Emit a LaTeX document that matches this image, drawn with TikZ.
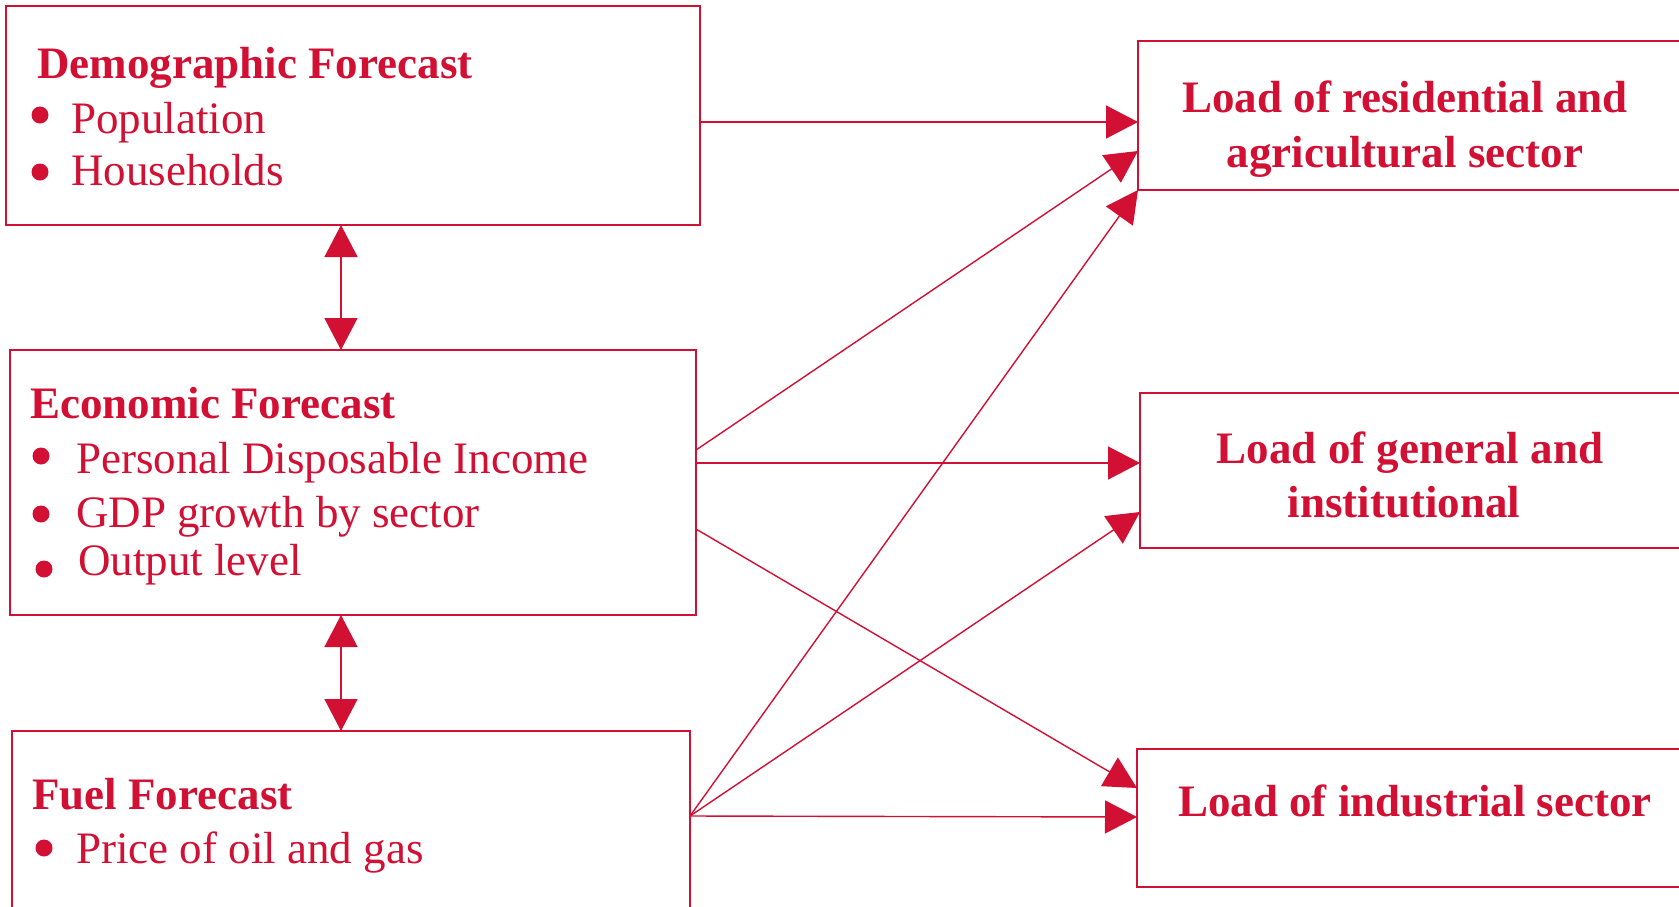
\documentclass[tikz,border=0pt]{standalone}
\usepackage{fontspec}
\setmainfont{Liberation Serif}
\usetikzlibrary{arrows.meta}
\definecolor{crim}{RGB}{210,16,52}
\tikzset{
  box/.style={draw=crim, line width=2.5pt, rectangle, inner sep=0pt, outer sep=0pt},
  conn/.style={draw=crim, line width=1.4pt, -{Triangle[length=32pt,width=33pt]}},
  biconn/.style={draw=crim, line width=1.4pt, {Triangle[length=32pt,width=33pt]}-{Triangle[length=32pt,width=33pt]}},
  ttl/.style={text=crim, anchor=base west, inner sep=0pt, font=\fontsize{45}{54}\selectfont\bfseries},
  itm/.style={text=crim, anchor=base west, inner sep=0pt, font=\fontsize{45}{54}\selectfont},
  rtxt/.style={text=crim, anchor=base, inner sep=0pt, font=\fontsize{45}{54}\selectfont\bfseries},
  dot/.style={fill=crim}
}
\begin{document}
\begin{tikzpicture}[x=1pt,y=-1pt]
\useasboundingbox (0,0) rectangle (1679,906);
\clip (0,0) rectangle (1679,906);
\fill[white] (0,0) rectangle (1679,906);
% boxes
\node[box, minimum width=694pt, minimum height=219pt] (demo) at (353,115.5) {};
\node[box, minimum width=686pt, minimum height=265pt] (econ) at (353,482.5) {};
\node[box, minimum width=678pt, minimum height=199pt] (fuel) at (351,830.5) {};
\node[box, minimum width=552pt, minimum height=149pt] (res) at (1414,115.5) {};
\node[box, minimum width=550pt, minimum height=155pt] (gen) at (1415,470.5) {};
\node[box, minimum width=553pt, minimum height=138pt] (ind) at (1413.5,818) {};
% left texts
\node[ttl] (demoT) at (37,78) {Demographic Forecast};
\node[itm] (demo1) at (71,133) {Population};
\node[itm] (demo2) at (71,185) {Households};
\fill[dot] (40,115) circle (8.5);
\fill[dot] (40,172) circle (8.5);
\node[ttl] (econT) at (30,418) {Economic Forecast};
\node[itm] (econ1) at (76,473) {Personal Disposable Income};
\node[itm] (econ2) at (76,527) {GDP growth by sector};
\node[itm] (econ3) at (78,575) {Output level};
\fill[dot] (41,456) circle (8.5);
\fill[dot] (41,514) circle (8.5);
\fill[dot] (44,569) circle (8.5);
\node[ttl] (fuelT) at (32,809) {Fuel Forecast};
\node[itm] (fuel1) at (76,863) {Price of oil and gas};
\fill[dot] (44,848) circle (8.5);
% right texts
\node[rtxt] (res1) at (1405,112) {Load of residential and};
\node[rtxt] (res2) at (1405,167) {agricultural sector};
\node[rtxt] (gen1) at (1410,463) {Load of general and};
\node[rtxt] (gen2) at (1404,517) {institutional};
\node[rtxt] (ind1) at (1415,816) {Load of industrial sector};
% connectors
\draw[biconn] ([xshift=-12pt]demo.south) -- ([xshift=-12pt]econ.north);
\draw[biconn] ([xshift=-12pt]econ.south) -- ([xshift=-12pt]econ.south |- fuel.north);
\draw[conn] ([yshift=-6.5pt]demo.east) -- ([yshift=-6.5pt]res.west);
\draw[conn] ([yshift=32.5pt]econ.east) -- ([yshift=-35.5pt]res.west);
\draw[conn] ([yshift=14.5pt]fuel.east) -- (res.south west);
\draw[conn] ([yshift=19.5pt]econ.east) -- ([yshift=7.5pt]gen.west);
\draw[conn] ([yshift=14.5pt]fuel.east) -- ([yshift=-41.5pt]gen.west);
\draw[conn] ([yshift=-46.5pt]econ.east) -- ([yshift=30pt]ind.west);
\draw[conn] ([yshift=14.5pt]fuel.east) -- ([yshift=1pt]ind.west);
\end{tikzpicture}
\end{document}
